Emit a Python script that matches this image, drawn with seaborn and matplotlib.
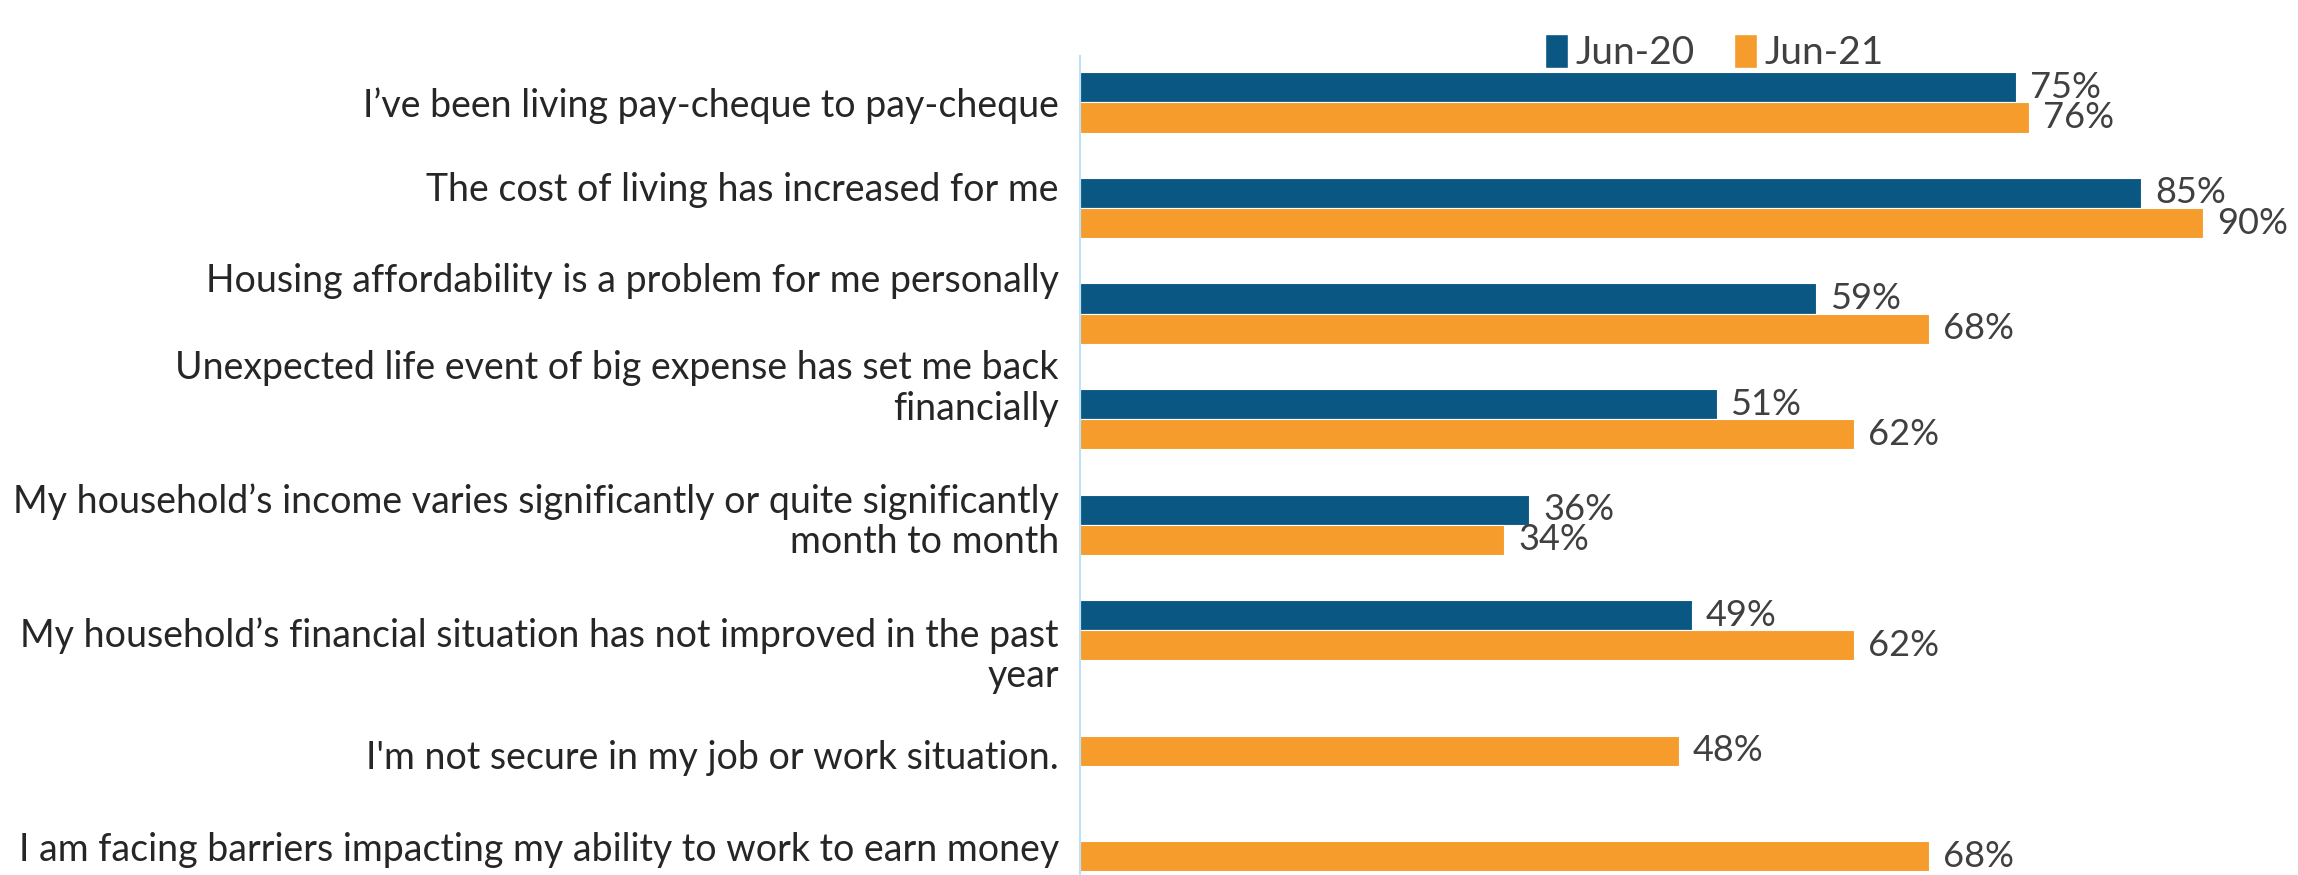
import numpy as np
import pandas as pd
import seaborn as sns
import matplotlib.pyplot as plt
from matplotlib.patches import Patch
import matplotlib.transforms as mtransforms

# Survey statements (top to bottom)
statements = [
    "I\u2019ve been living pay-cheque to pay-cheque",
    "The cost of living has increased for me",
    "Housing affordability is a problem for me personally",
    "Unexpected life event of big expense has set me back\nfinancially",
    "My household\u2019s income varies significantly or quite significantly\nmonth to month",
    "My household\u2019s financial situation has not improved in the past\nyear",
    "I'm not secure in my job or work situation.",
    "I am facing barriers impacting my ability to work to earn money",
]
periods = ["Jun-20", "Jun-21"]
jun20 = [75, 85, 59, 51, 36, 49, np.nan, np.nan]
jun21 = [76, 90, 68, 62, 34, 62, 48, 68]

colors = {"Jun-20": "#0A5783", "Jun-21": "#F69C2C"}

# vertical nudges of the category labels (as in the original layout)
label_shift = [0.03, -0.17, -0.31, -0.29, -0.03, 0.24, 0.21, 0.08]

df = pd.DataFrame({
    "statement": statements * 2,
    "period": [periods[0]] * len(statements) + [periods[1]] * len(statements),
    "value": jun20 + jun21,
}).dropna()

sns.set_style("white")
plt.rcParams["font.family"] = ["Lato", "DejaVu Sans"]

fig = plt.figure(figsize=(22.98, 8.75), dpi=100)
ax = fig.add_axes([0.47, 0.0, 0.51, 0.936])

sns.barplot(data=df, y="statement", x="value", hue="period",
            order=statements, hue_order=periods, palette=colors,
            saturation=1, width=0.57, orient="h", ax=ax, legend=False,
            edgecolor="white", linewidth=0.8)

for cont in ax.containers:
    ax.bar_label(cont, fmt=lambda v: f"{v:.0f}%", padding=10,
                 fontsize=26, color="#404040")

ax.set_xlim(0, 93.9)
ax.set_ylim(7.32, -0.44)
ax.set_xticks([])
ax.set_yticks([])
ax.set_xlabel("")
ax.set_ylabel("")
for side in ["top", "right", "bottom"]:
    ax.spines[side].set_visible(False)
ax.spines["left"].set_color("#BEE2F4")
ax.spines["left"].set_linewidth(1.5)

trans = mtransforms.blended_transform_factory(ax.transAxes, ax.transData)
for i, (txt, dy) in enumerate(zip(statements, label_shift)):
    ax.text(-0.018, i + dy, txt, transform=trans, ha="right", va="center",
            fontsize=27, color="#262626", linespacing=1.15)

handles = [Patch(facecolor=colors[p], label=p) for p in periods]
fig.legend(handles=handles, loc="center", bbox_to_anchor=(0.746, 0.94),
           ncol=2, frameon=False, fontsize=28, handlelength=0.6,
           handleheight=1.0, handletextpad=0.2, columnspacing=1.0,
           labelcolor="#404040")

fig.savefig("out.png", dpi=100)
